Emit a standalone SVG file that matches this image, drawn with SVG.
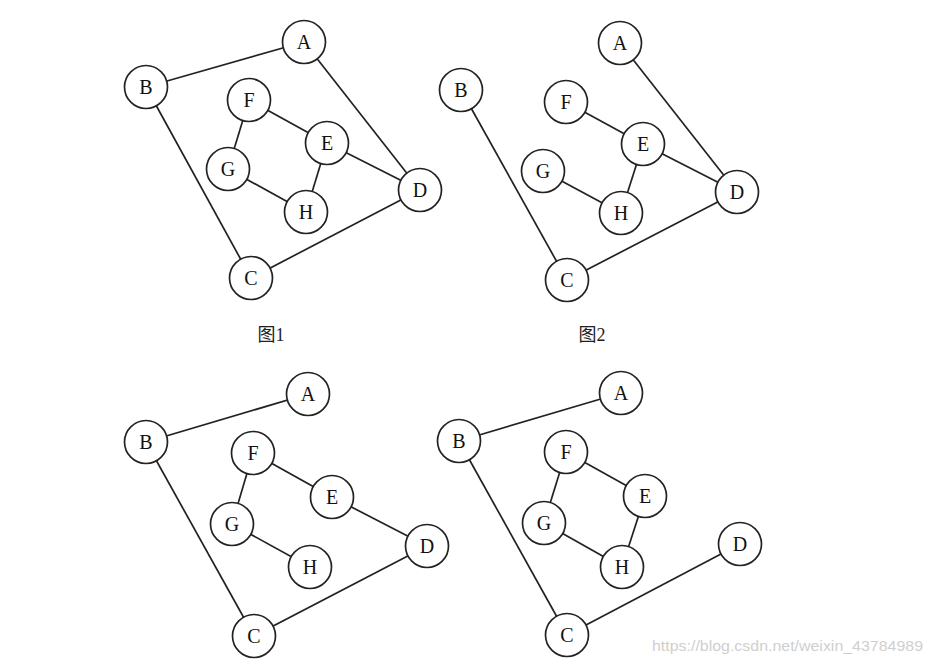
<svg xmlns="http://www.w3.org/2000/svg" width="933" height="665" viewBox="0 0 933 665">
<style>
.e{stroke:#222;stroke-width:1.7;fill:none}
.n circle{fill:#fff;stroke:#222;stroke-width:1.7}
.n text{font-family:"Liberation Serif",serif;font-size:20px;fill:#111;text-anchor:middle;dominant-baseline:central}
.cap{font-family:"Liberation Serif","Noto Sans CJK SC",serif;font-size:18px;fill:#222;text-anchor:middle}
.wm{font-family:"Liberation Sans",sans-serif;font-size:15px;fill:#cfcfcf}
</style>
<rect width="933" height="665" fill="#fff"/>
<g id="connectors">
<!-- graph 1 -->
<line class="e" x1="146" y1="87" x2="304" y2="42"/>
<line class="e" x1="304" y1="42" x2="420" y2="190"/>
<line class="e" x1="146" y1="87" x2="251" y2="278"/>
<line class="e" x1="251" y1="278" x2="420" y2="190"/>
<line class="e" x1="249" y1="100" x2="327" y2="143"/>
<line class="e" x1="249" y1="100" x2="228" y2="169"/>
<line class="e" x1="327" y1="143" x2="420" y2="190"/>
<line class="e" x1="327" y1="143" x2="306" y2="212"/>
<line class="e" x1="228" y1="169" x2="306" y2="212"/>
<!-- graph 2 -->
<line class="e" x1="620" y1="43" x2="737" y2="192"/>
<line class="e" x1="461" y1="90" x2="567" y2="280"/>
<line class="e" x1="567" y1="280" x2="737" y2="192"/>
<line class="e" x1="566" y1="102" x2="643" y2="144"/>
<line class="e" x1="643" y1="144" x2="737" y2="192"/>
<line class="e" x1="643" y1="144" x2="621" y2="213"/>
<line class="e" x1="543" y1="171" x2="621" y2="213"/>
<!-- graph 3 -->
<line class="e" x1="146" y1="442" x2="308" y2="394"/>
<line class="e" x1="146" y1="442" x2="254" y2="636"/>
<line class="e" x1="254" y1="636" x2="427" y2="546"/>
<line class="e" x1="253" y1="453" x2="332" y2="497"/>
<line class="e" x1="253" y1="453" x2="232" y2="524"/>
<line class="e" x1="332" y1="497" x2="427" y2="546"/>
<line class="e" x1="232" y1="524" x2="310" y2="567"/>
<!-- graph 4 -->
<line class="e" x1="459" y1="441" x2="621" y2="393"/>
<line class="e" x1="459" y1="441" x2="567" y2="635"/>
<line class="e" x1="567" y1="635" x2="740" y2="544"/>
<line class="e" x1="566" y1="452" x2="645" y2="496"/>
<line class="e" x1="566" y1="452" x2="544" y2="523"/>
<line class="e" x1="645" y1="496" x2="622" y2="567"/>
<line class="e" x1="544" y1="523" x2="622" y2="567"/>
</g>
<g id="g1">
<g id="g1A" class="n"><circle cx="304" cy="42" r="21.5"/><text x="304" y="42">A</text></g>
<g id="g1B" class="n"><circle cx="146" cy="87" r="21.5"/><text x="146" y="87">B</text></g>
<g id="g1C" class="n"><circle cx="251" cy="278" r="21.5"/><text x="251" y="278">C</text></g>
<g id="g1D" class="n"><circle cx="420" cy="190" r="21.5"/><text x="420" y="190">D</text></g>
<g id="g1E" class="n"><circle cx="327" cy="143" r="21.5"/><text x="327" y="143">E</text></g>
<g id="g1F" class="n"><circle cx="249" cy="100" r="21.5"/><text x="249" y="100">F</text></g>
<g id="g1G" class="n"><circle cx="228" cy="169" r="21.5"/><text x="228" y="169">G</text></g>
<g id="g1H" class="n"><circle cx="306" cy="212" r="21.5"/><text x="306" y="212">H</text></g>
</g>
<g id="g2">
<g id="g2A" class="n"><circle cx="620" cy="43" r="21.5"/><text x="620" y="43">A</text></g>
<g id="g2B" class="n"><circle cx="461" cy="90" r="21.5"/><text x="461" y="90">B</text></g>
<g id="g2C" class="n"><circle cx="567" cy="280" r="21.5"/><text x="567" y="280">C</text></g>
<g id="g2D" class="n"><circle cx="737" cy="192" r="21.5"/><text x="737" y="192">D</text></g>
<g id="g2E" class="n"><circle cx="643" cy="144" r="21.5"/><text x="643" y="144">E</text></g>
<g id="g2F" class="n"><circle cx="566" cy="102" r="21.5"/><text x="566" y="102">F</text></g>
<g id="g2G" class="n"><circle cx="543" cy="171" r="21.5"/><text x="543" y="171">G</text></g>
<g id="g2H" class="n"><circle cx="621" cy="213" r="21.5"/><text x="621" y="213">H</text></g>
</g>
<g id="g3">
<g id="g3A" class="n"><circle cx="308" cy="394" r="21.5"/><text x="308" y="394">A</text></g>
<g id="g3B" class="n"><circle cx="146" cy="442" r="21.5"/><text x="146" y="442">B</text></g>
<g id="g3C" class="n"><circle cx="254" cy="636" r="21.5"/><text x="254" y="636">C</text></g>
<g id="g3D" class="n"><circle cx="427" cy="546" r="21.5"/><text x="427" y="546">D</text></g>
<g id="g3E" class="n"><circle cx="332" cy="497" r="21.5"/><text x="332" y="497">E</text></g>
<g id="g3F" class="n"><circle cx="253" cy="453" r="21.5"/><text x="253" y="453">F</text></g>
<g id="g3G" class="n"><circle cx="232" cy="524" r="21.5"/><text x="232" y="524">G</text></g>
<g id="g3H" class="n"><circle cx="310" cy="567" r="21.5"/><text x="310" y="567">H</text></g>
</g>
<g id="g4">
<g id="g4A" class="n"><circle cx="621" cy="393" r="21.5"/><text x="621" y="393">A</text></g>
<g id="g4B" class="n"><circle cx="459" cy="441" r="21.5"/><text x="459" y="441">B</text></g>
<g id="g4C" class="n"><circle cx="567" cy="635" r="21.5"/><text x="567" y="635">C</text></g>
<g id="g4D" class="n"><circle cx="740" cy="544" r="21.5"/><text x="740" y="544">D</text></g>
<g id="g4E" class="n"><circle cx="645" cy="496" r="21.5"/><text x="645" y="496">E</text></g>
<g id="g4F" class="n"><circle cx="566" cy="452" r="21.5"/><text x="566" y="452">F</text></g>
<g id="g4G" class="n"><circle cx="544" cy="523" r="21.5"/><text x="544" y="523">G</text></g>
<g id="g4H" class="n"><circle cx="622" cy="567" r="21.5"/><text x="622" y="567">H</text></g>
</g>
<text class="cap" x="271" y="341">图1</text>
<text class="cap" x="592" y="341">图2</text>
<text class="wm" x="652" y="651" textLength="271" lengthAdjust="spacingAndGlyphs">https://blog.csdn.net/weixin_43784989</text>
</svg>
